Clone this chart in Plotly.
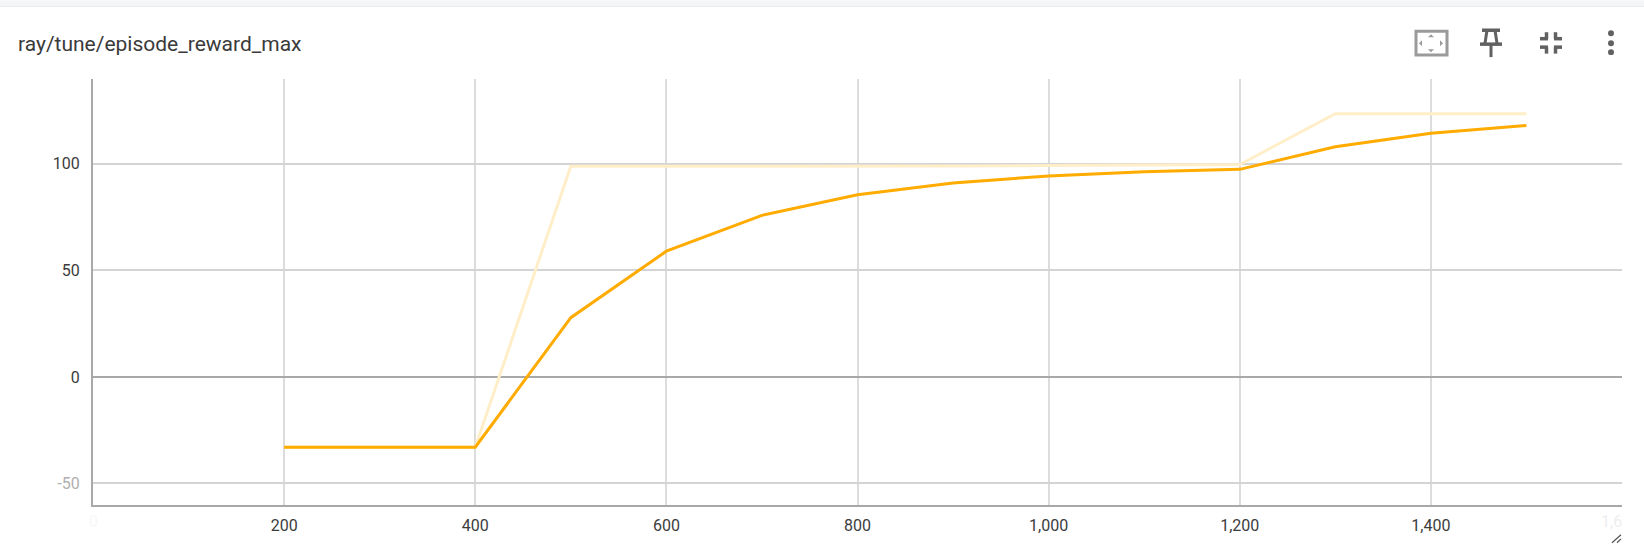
import plotly.graph_objects as go

W, H = 1644, 547
L, R, T, B = 93, 1622, 79, 507

TITLE = "ray/tune/episode_reward_max"
steps = [200, 400, 500, 600, 700, 800, 900, 1000, 1100, 1200, 1300, 1400, 1500]
raw_values = [-33, -33, 98.8, 98.8, 98.9, 99, 99, 99.2, 99.4, 99.7, 123.5, 123.5, 123.5]
smoothed_values = [-33, -33, 27.8, 59, 75.8, 85.5, 91, 94.3, 96.3, 97.4, 108, 114.3, 118]
x_ticks = [200, 400, 600, 800, 1000, 1200, 1400]
x_labels = ["200", "400", "600", "800", "1,000", "1,200", "1,400"]
y_ticks = [-50, 0, 50, 100]
y_labels = ['<span style="color:#b0b0b0">-50</span>', "0", "50", "100"]
X_RANGE = [0, 1600]
Y_RANGE = [-60.1, 139.8]
RAW_COLOR = "#ffeec8"
SMOOTH_COLOR = "#ffab00"


def px(x):
    return (x - L) / (R - L)


def py(y):
    return (B - y) / (B - T)


fig = go.Figure()
fig.add_trace(go.Scatter(x=steps, y=raw_values, mode="lines", line=dict(color=RAW_COLOR, width=3), showlegend=False))
fig.add_trace(go.Scatter(x=steps, y=smoothed_values, mode="lines", line=dict(color=SMOOTH_COLOR, width=3), showlegend=False))

axis_font = dict(family="Roboto", size=16, color="#3c3c3c")
fig.update_xaxes(range=X_RANGE, tickvals=x_ticks, ticktext=x_labels, showgrid=True, gridcolor="#dcdcdc", gridwidth=1.6,
                 showline=True, linecolor="#a8a8a8", linewidth=2, ticks="", zeroline=False, tickfont=axis_font, ticklabelstandoff=5)
fig.update_yaxes(range=Y_RANGE, tickvals=y_ticks, ticktext=y_labels, showgrid=True, gridcolor="#d4d4d4", gridwidth=1.7,
                 showline=True, linecolor="#a8a8a8", linewidth=2, ticks="", zeroline=True, zerolinecolor="#a8a8a8", zerolinewidth=2,
                 tickfont=axis_font, ticklabelstandoff=8)

ICON = "#616161"
shapes = [
    dict(type="rect", xref="paper", yref="paper", x0=px(0), x1=px(W), y0=py(0), y1=py(6), fillcolor="#f5f6f7", line_width=0, layer="below"),
    dict(type="line", xref="paper", yref="paper", x0=px(0), x1=px(W), y0=py(6), y1=py(6), line=dict(color="#e8e9ea", width=1)),
    # fit-domain icon
    dict(type="rect", xref="paper", yref="paper", x0=px(1416), x1=px(1447), y0=py(31), y1=py(55), line=dict(color="#9a9a9a", width=3)),
]
def seg(x0, y0, x1, y1, w=2.5, c=ICON):
    shapes.append(dict(type="line", xref="paper", yref="paper", x0=px(x0), y0=py(y0), x1=px(x1), y1=py(y1), line=dict(color=c, width=w)))

def poly(pts, c):
    d = "M " + " L ".join(f"{px(a):.5f},{py(b):.5f}" for a, b in pts) + " Z"
    shapes.append(dict(type="path", xref="paper", yref="paper", path=d, fillcolor=c, line_width=0))

# small arrows of the fit icon
poly([(1431, 34), (1428, 37), (1434, 37)], "#9a9a9a")
poly([(1431, 52), (1428, 49), (1434, 49)], "#9a9a9a")
poly([(1419, 43), (1422, 40), (1422, 46)], "#9a9a9a")
poly([(1443, 43), (1440, 40), (1440, 46)], "#9a9a9a")
# pin icon
seg(1482, 30, 1500, 30, 3.5)
seg(1487, 30, 1485, 43, 3)
seg(1495, 30, 1497, 43, 3)
seg(1480, 44, 1502, 44, 3.5)
seg(1491, 44, 1491, 57, 3)
# collapse icon
seg(1540, 38.5, 1548, 38.5, 3.5); seg(1546.5, 32, 1546.5, 38.5, 3.5)
seg(1554, 38.5, 1562, 38.5, 3.5); seg(1555.5, 32, 1555.5, 38.5, 3.5)
seg(1540, 47, 1548, 47, 3.5); seg(1546.5, 47, 1546.5, 53.5, 3.5)
seg(1554, 47, 1562, 47, 3.5); seg(1555.5, 47, 1555.5, 53.5, 3.5)
# menu dots
for cy in (33, 43, 52):
    shapes.append(dict(type="circle", xref="paper", yref="paper", x0=px(1608), x1=px(1614), y0=py(cy - 3), y1=py(cy + 3), fillcolor=ICON, line_width=0))
# resize handle
seg(1612, 545, 1621, 537, 1.3, "#555555")
seg(1617, 545, 1621, 541, 1.3, "#555555")

fig.update_layout(
    width=W, height=H, autosize=False,
    margin=dict(l=L, r=W - R, t=T, b=H - B, pad=0),
    paper_bgcolor="white", plot_bgcolor="white",
    font=dict(family="Roboto", color="#3c3c3c"),
    shapes=shapes,
    annotations=[
        dict(text=TITLE, xref="paper", yref="paper", x=px(16), y=py(43.5), xanchor="left", yanchor="middle", showarrow=False,
             font=dict(family="Roboto", size=21, color="#3a3a3a")),
        dict(text="1,6", xref="x", yref="paper", x=X_RANGE[1], y=py(524), xanchor="right", yanchor="middle", showarrow=False,
             font=dict(family="Roboto", size=16, color="#eeeeee"), xshift=2),
        dict(text="0", xref="x", yref="paper", x=X_RANGE[0], y=py(524), xanchor="center", yanchor="middle", showarrow=False,
             font=dict(family="Roboto", size=16, color="#f8f8f8")),
    ],
)
fig.write_html("out.html", config=dict(displayModeBar=False),
               post_script="document.body.style.margin='0';document.documentElement.style.overflow='hidden';")
